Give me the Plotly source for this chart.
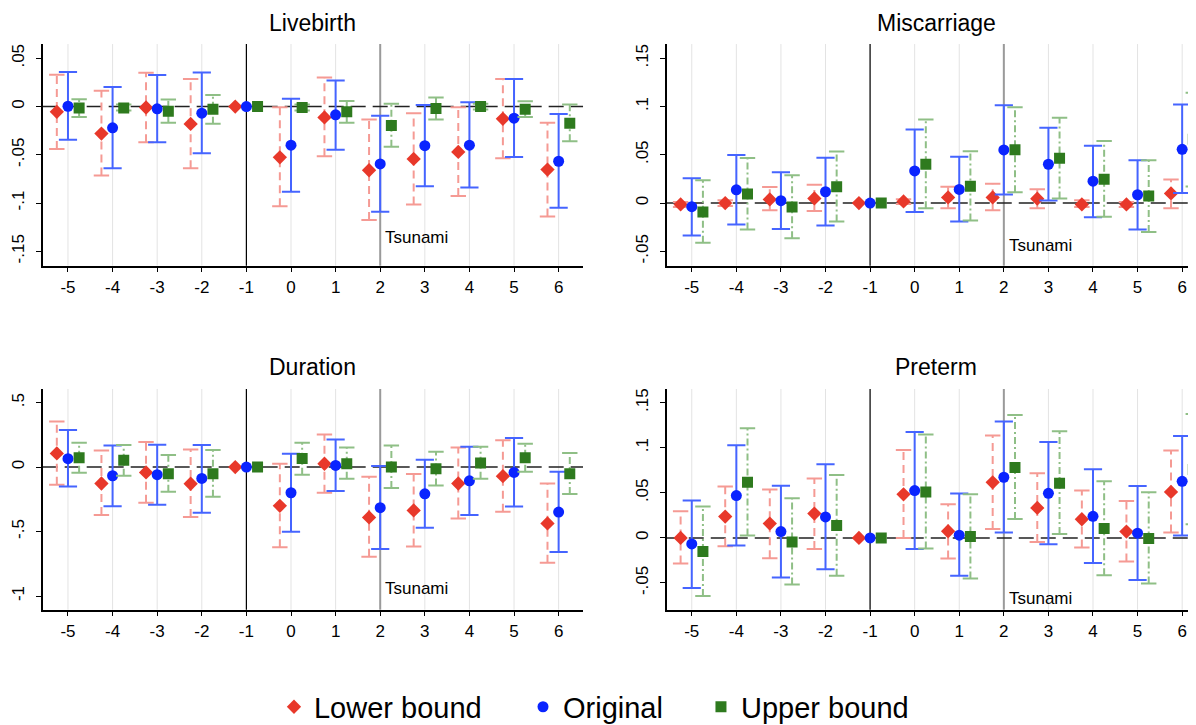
import plotly.graph_objects as go
from plotly.subplots import make_subplots

periods = [-5, -4, -3, -2, -1, 0, 1, 2, 3, 4, 5, 6]

# Livebirth
livebirth_lower = [-0.0055, -0.028, -0.001, -0.018, 0, -0.0526, -0.0113, -0.066, -0.0543, -0.047, -0.0127, -0.0653]
livebirth_lower_lo = [-0.044, -0.0715, -0.037, -0.064, None, -0.1034, -0.0515, -0.1175, -0.1014, -0.0928, -0.0536, -0.114]
livebirth_lower_hi = [0.033, 0.0165, 0.035, 0.0285, None, -0.0007, 0.030, -0.0134, -0.0069, -0.0007, 0.0285, -0.0168]
livebirth_orig = [0.0003, -0.022, -0.0024, -0.0069, 0, -0.040, -0.0086, -0.0595, -0.0405, -0.040, -0.012, -0.0567]
livebirth_orig_lo = [-0.0344, -0.064, -0.037, -0.0485, None, -0.0883, -0.0447, -0.109, -0.0825, -0.0838, -0.0522, -0.105]
livebirth_orig_hi = [0.0357, 0.0203, 0.0326, 0.0354, None, 0.0082, 0.027, -0.0096, 0.0017, 0.0045, 0.0285, -0.0076]
livebirth_upper = [-0.0014, -0.0014, -0.0048, -0.0027, 0, -0.001, -0.0055, -0.0196, -0.002, 0.0, -0.0027, -0.0172]
livebirth_upper_lo = [-0.0107, -0.004, -0.0168, -0.0179, None, -0.004, -0.0168, -0.0416, -0.0134, -0.003, -0.0107, -0.036]
livebirth_upper_hi = [0.0076, 0.002, 0.0072, 0.012, None, 0.002, 0.0058, 0.003, 0.0093, 0.003, 0.0055, 0.002]

# Miscarriage
miscarriage_lower = [-0.0014, 0, 0.0038, 0.0048, 0, 0.0017, 0.0058, 0.0058, 0.0045, -0.0014, -0.0014, 0.010]
miscarriage_lower_lo = [-0.004, -0.003, -0.0076, -0.0082, None, -0.001, -0.0055, -0.0076, -0.0055, -0.004, -0.004, -0.0055]
miscarriage_lower_hi = [0.001, 0.003, 0.0165, 0.019, None, 0.004, 0.0168, 0.020, 0.0144, 0.003, 0.001, 0.0244]
miscarriage_orig = [-0.0038, 0.0137, 0.0024, 0.0117, 0, 0.0333, 0.0141, 0.055, 0.0402, 0.0227, 0.0086, 0.0557]
miscarriage_orig_lo = [-0.0337, -0.0223, -0.0268, -0.0234, None, -0.0093, -0.0192, 0.0089, 0.0027, -0.0148, -0.0275, 0.0103]
miscarriage_orig_hi = [0.0258, 0.0498, 0.032, 0.047, None, 0.0763, 0.048, 0.1014, 0.078, 0.0595, 0.0443, 0.102]
miscarriage_upper = [-0.0093, 0.0093, -0.0041, 0.0168, 0, 0.0402, 0.0175, 0.0553, 0.0464, 0.0247, 0.0072, 0.066]
miscarriage_upper_lo = [-0.0412, -0.0275, -0.0364, -0.0192, None, -0.0055, -0.0182, 0.0113, 0.0048, -0.0141, -0.0299, 0.0172]
miscarriage_upper_hi = [0.0237, 0.0467, 0.0289, 0.0533, None, 0.0866, 0.0536, 0.0993, 0.0883, 0.0643, 0.0443, 0.1144]

# Duration
duration_lower = [0.106, -0.127, -0.041, -0.129, 0, -0.300, 0.026, -0.390, -0.336, -0.127, -0.070, -0.437]
duration_lower_lo = [-0.137, -0.372, -0.277, -0.388, None, -0.621, -0.199, -0.696, -0.615, -0.398, -0.347, -0.742]
duration_lower_hi = [0.354, 0.129, 0.194, 0.137, None, 0.026, 0.253, -0.075, -0.054, 0.153, 0.209, -0.127]
duration_orig = [0.065, -0.067, -0.059, -0.088, 0, -0.199, 0.013, -0.315, -0.207, -0.106, -0.041, -0.349]
duration_orig_lo = [-0.150, -0.303, -0.292, -0.354, None, -0.502, -0.186, -0.636, -0.471, -0.372, -0.305, -0.659]
duration_orig_hi = [0.287, 0.168, 0.173, 0.171, None, 0.103, 0.215, 0.008, 0.057, 0.158, 0.225, -0.036]
duration_upper = [0.072, 0.054, -0.052, -0.052, 0, 0.067, 0.026, 0.0, -0.013, 0.031, 0.072, -0.052]
duration_upper_lo = [-0.044, -0.067, -0.191, -0.230, None, -0.059, -0.091, -0.163, -0.142, -0.091, -0.036, -0.209]
duration_upper_hi = [0.189, 0.171, 0.093, 0.132, None, 0.189, 0.153, 0.168, 0.119, 0.158, 0.181, 0.109]

# Preterm
preterm_lower = [0.0, 0.0237, 0.0159, 0.027, 0, 0.0484, 0.0074, 0.0617, 0.0333, 0.0207, 0.007, 0.051]
preterm_lower_lo = [-0.0285, -0.0092, -0.0226, -0.0122, None, 0.0, -0.0229, 0.010, -0.0044, -0.0107, -0.0262, 0.0059]
preterm_lower_hi = [0.0296, 0.0569, 0.0536, 0.0658, None, 0.0976, 0.0373, 0.1135, 0.0717, 0.0525, 0.041, 0.0969]
preterm_orig = [-0.0067, 0.047, 0.007, 0.0233, 0, 0.0525, 0.003, 0.0673, 0.0495, 0.024, 0.0052, 0.0628]
preterm_orig_lo = [-0.0555, -0.0085, -0.044, -0.0348, None, -0.0122, -0.0421, 0.0059, -0.007, -0.0277, -0.0466, 0.0026]
preterm_orig_hi = [0.0414, 0.1028, 0.058, 0.0817, None, 0.1176, 0.0492, 0.129, 0.1065, 0.0762, 0.0577, 0.1131]
preterm_upper = [-0.0152, 0.0617, -0.0044, 0.0137, 0, 0.051, 0.0015, 0.078, 0.0606, 0.0104, -0.0007, 0.0758]
preterm_upper_lo = [-0.0643, 0.0026, -0.0518, -0.0421, None, -0.0118, -0.0451, 0.0211, 0.0044, -0.0414, -0.0506, 0.0152]
preterm_upper_hi = [0.0348, 0.1216, 0.044, 0.0699, None, 0.1146, 0.0484, 0.1364, 0.1183, 0.0628, 0.0506, 0.1375]

titles = ["Livebirth", "Miscarriage", "Duration", "Preterm"]
ytick_vals = [
    [0.05, 0, -0.05, -0.1, -0.15],
    [0.15, 0.1, 0.05, 0, -0.05],
    [0.5, 0, -0.5, -1],
    [0.15, 0.1, 0.05, 0, -0.05],
]
ytick_text = [
    [".05", "0", "-.05", "-.1", "-.15"],
    [".15", ".1", ".05", "0", "-.05"],
    [".5", "0", "-.5", "-1"],
    [".15", ".1", ".05", "0", "-.05"],
]

panels = [
    (livebirth_lower, livebirth_lower_lo, livebirth_lower_hi,
     livebirth_orig, livebirth_orig_lo, livebirth_orig_hi,
     livebirth_upper, livebirth_upper_lo, livebirth_upper_hi),
    (miscarriage_lower, miscarriage_lower_lo, miscarriage_lower_hi,
     miscarriage_orig, miscarriage_orig_lo, miscarriage_orig_hi,
     miscarriage_upper, miscarriage_upper_lo, miscarriage_upper_hi),
    (duration_lower, duration_lower_lo, duration_lower_hi,
     duration_orig, duration_orig_lo, duration_orig_hi,
     duration_upper, duration_upper_lo, duration_upper_hi),
    (preterm_lower, preterm_lower_lo, preterm_lower_hi,
     preterm_orig, preterm_orig_lo, preterm_orig_hi,
     preterm_upper, preterm_upper_lo, preterm_upper_hi),
]

# name, offset, symbol, marker size, marker colour, bar colour, dash, cap size, legend
series_style = [
    ("Lower bound", -0.25, "diamond", 11, "#e8382a", "#f59a94", "8px,5px", 11, "legend"),
    ("Original", 0.0, "circle", 11, "#0a24ff", "#4564ff", "solid", 13, "legend2"),
    ("Upper bound", 0.25, "square", 11, "#2e7a1e", "#8fbf86", "7px,3px,2px,3px", 11, "legend3"),
]

fig = make_subplots(rows=2, cols=2)
positions = [(1, 1), (1, 2), (2, 1), (2, 2)]

for k, data in enumerate(panels):
    row, col = positions[k]
    for s, (name, off, sym, size, mcol, bcol, dash, cap, leg) in enumerate(series_style):
        est, lo, hi = data[3 * s], data[3 * s + 1], data[3 * s + 2]
        bx, by, cx, cy = [], [], [], []
        for p, l, h in zip(periods, lo, hi):
            if l is None:
                continue
            bx += [p + off, p + off, None]
            by += [l, h, None]
            cx += [p + off, p + off]
            cy += [l, h]
        # CI spikes
        fig.add_trace(go.Scatter(x=bx, y=by, mode="lines",
                                 line=dict(color=bcol, width=2, dash=dash),
                                 showlegend=False, hoverinfo="skip"), row=row, col=col)
        # caps
        fig.add_trace(go.Scatter(x=cx, y=cy, mode="markers",
                                 marker=dict(symbol="line-ew", size=cap,
                                             line=dict(color=bcol, width=2)),
                                 showlegend=False, hoverinfo="skip"), row=row, col=col)
        # point estimates
        fig.add_trace(go.Scatter(x=[p + off for p in periods], y=est, mode="markers",
                                 name=name, legend=leg,
                                 marker=dict(symbol=sym, size=size, color=mcol),
                                 showlegend=(k == 0)), row=row, col=col)

# panel geometry (page has an 8px body margin, so everything is shifted by that)
x_domains = [[0.029, 0.4808], [0.5508, 1.0], [0.029, 0.4808], [0.5508, 1.0]]
y_domains = [[0.6446, 0.9503], [0.6446, 0.9503], [0.1701, 0.4745], [0.1701, 0.4745]]
x_ranges = [[-5.567, 6.547], [-5.561, 6.49], [-5.567, 6.547], [-5.561, 6.49]]
y_ranges = [[-0.1649, 0.0648], [-0.0649, 0.1648], [-1.106, 0.606], [-0.0796, 0.1652]]
title_x = [0.2549, 0.7763, 0.2549, 0.7763]
title_y = [0.9789, 0.9789, 0.5044, 0.5044]
tsunami_y = [-0.136, -0.0436, -0.944, -0.0669]

for k in range(4):
    sfx = "" if k == 0 else str(k + 1)
    fig.update_layout(**{
        "xaxis" + sfx: dict(domain=x_domains[k], range=x_ranges[k],
                            tickvals=periods, ticktext=[str(p) for p in periods],
                            showgrid=False, zeroline=False,
                            showline=True, linecolor="black", linewidth=1.5,
                            ticks="outside", ticklen=5, tickcolor="black",
                            tickfont=dict(size=17, color="black")),
        "yaxis" + sfx: dict(domain=y_domains[k], range=y_ranges[k],
                            tickvals=ytick_vals[k], ticktext=ytick_text[k],
                            tickangle=-90, showgrid=False, zeroline=False,
                            showline=True, linecolor="black", linewidth=1.5,
                            ticks="outside", ticklen=5, tickcolor="black",
                            ticklabelstandoff=5,
                            tickfont=dict(size=17, color="black")),
    })
    xr = "x" + sfx
    yr = "y" + sfx
    # light vertical grid at every period
    for p in periods:
        fig.add_shape(type="line", xref=xr, yref=yr + " domain", x0=p, x1=p, y0=0, y1=1,
                      line=dict(color="#e3e3e3", width=1), layer="below")
    # base period and tsunami lines
    fig.add_shape(type="line", xref=xr, yref=yr + " domain", x0=-1, x1=-1, y0=0, y1=1,
                  line=dict(color="black", width=1.2), layer="below")
    fig.add_shape(type="line", xref=xr, yref=yr + " domain", x0=2, x1=2, y0=0, y1=1,
                  line=dict(color="#9a9a9a", width=2), layer="below")
    # zero line
    fig.add_shape(type="line", xref=xr + " domain", yref=yr, x0=0, x1=1, y0=0, y1=0,
                  line=dict(color="#222222", width=1.5, dash="15px,7px"), layer="below")
    fig.add_annotation(x=2.06, y=tsunami_y[k], xref=xr, yref=yr, text="Tsunami",
                       showarrow=False, xanchor="left", yanchor="middle",
                       font=dict(size=17, color="black"))
    fig.add_annotation(x=title_x[k], y=title_y[k], xref="paper", yref="paper",
                       text=titles[k], showarrow=False, xanchor="center", yanchor="middle",
                       font=dict(size=23, color="black"))

leg_common = dict(orientation="h", y=0.036, yanchor="middle", xanchor="left",
                  font=dict(size=29, color="black"), bgcolor="rgba(0,0,0,0)")
fig.update_layout(
    width=1196, height=725,
    margin=dict(l=0, r=0, t=0, b=0),
    paper_bgcolor="white", plot_bgcolor="white",
    font=dict(family="Liberation Sans, Arial, sans-serif", color="black"),
    legend=dict(x=0.2224, **leg_common),
    legend2=dict(x=0.4306, **leg_common),
    legend3=dict(x=0.5794, **leg_common),
)

fig.write_html("out.html")
